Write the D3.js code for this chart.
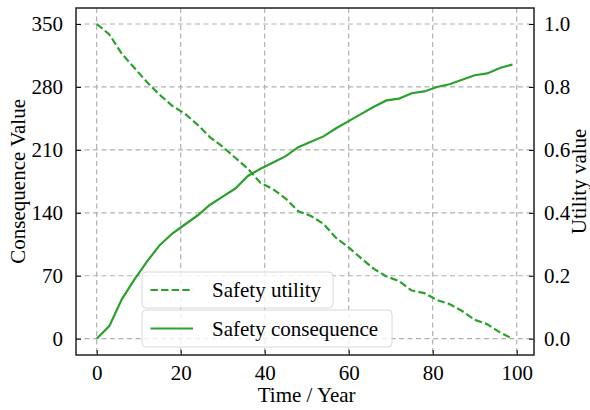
<!DOCTYPE html>
<html>
<head>
<meta charset="utf-8">
<script src="https://cdn.jsdelivr.net/npm/d3@7"></script>
<style>
  html, body { margin: 0; padding: 0; background: #fff; }
  svg { display: block; }
  text { font-family: "Liberation Serif", "Times New Roman", serif; fill: #000; }
</style>
</head>
<body>
<svg id="chart" width="590" height="410"></svg>
<script>
// Time axis (years)
const years = [0, 3, 6, 9, 12, 15, 18, 21, 24, 27, 30, 33, 36, 39, 42, 45, 48,
  51, 54, 57, 60, 63, 66, 69, 72, 75, 78, 81, 84, 87, 90, 93, 96, 99];

// Safety consequence (left axis)
const consequence = [0, 14, 44, 66, 86, 104, 117, 127, 137, 149, 158, 167, 181, 189,
  196, 203, 213, 219, 225, 234, 242, 250, 258, 265, 267, 273, 275, 280, 283, 288,
  293, 295, 301, 305];

// Safety utility (right axis)
const utility = [1.0, 0.967, 0.905, 0.86, 0.815, 0.775, 0.74, 0.715, 0.68, 0.64,
  0.61, 0.575, 0.54, 0.495, 0.475, 0.445, 0.405, 0.39, 0.365, 0.32, 0.29, 0.255,
  0.222, 0.198, 0.183, 0.153, 0.145, 0.123, 0.11, 0.088, 0.06, 0.046, 0.02, 0.0];

const xTicks = [0, 20, 40, 60, 80, 100];
const leftTicks = [0, 70, 140, 210, 280, 350];
const rightTicks = [0.0, 0.2, 0.4, 0.6, 0.8, 1.0];

const seriesNames = ["Safety utility", "Safety consequence"];
const green = "#2ca02c";

const svg = d3.select("#chart");
const frame = { left: 76, right: 534, top: 8, bottom: 355 };

const x = d3.scaleLinear().domain([0, 100]).range([96.7, 516.7]);
const yL = d3.scaleLinear().domain([0, 350]).range([338.7, 24]);
const yR = d3.scaleLinear().domain([0, 1]).range([338.7, 24]);

// grid
const grid = svg.append("g").attr("stroke", "#b0b0b0").attr("stroke-width", 1.2)
  .attr("stroke-dasharray", "5,3.5").attr("fill", "none");
xTicks.forEach(t => grid.append("line")
  .attr("x1", x(t)).attr("x2", x(t)).attr("y1", frame.top).attr("y2", frame.bottom));
leftTicks.forEach(t => grid.append("line")
  .attr("x1", frame.left).attr("x2", frame.right).attr("y1", yL(t)).attr("y2", yL(t)));

// axes with inward ticks
const fs = 21;
const bottomAxis = d3.axisBottom(x).tickValues(xTicks).tickSizeInner(-5).tickSizeOuter(0)
  .tickPadding(10).tickFormat(d3.format("d"));
const leftAxis = d3.axisLeft(yL).tickValues(leftTicks).tickSizeInner(-5).tickSizeOuter(0)
  .tickPadding(13).tickFormat(d3.format("d"));
const rightAxis = d3.axisRight(yR).tickValues(rightTicks).tickSizeInner(-5).tickSizeOuter(0)
  .tickPadding(10).tickFormat(d3.format(".1f"));

function styleAxis(g) {
  g.select(".domain").remove();
  g.selectAll(".tick line").attr("stroke", "#000").attr("stroke-width", 1);
  g.selectAll(".tick text").style("font-family", '"Liberation Serif", serif')
    .style("font-size", fs + "px").attr("fill", "#000");
}
svg.append("g").attr("transform", `translate(0,${frame.bottom})`).call(bottomAxis).call(styleAxis);
svg.append("g").attr("transform", `translate(${frame.left},0)`).call(leftAxis).call(styleAxis);
svg.append("g").attr("transform", `translate(${frame.right},0)`).call(rightAxis).call(styleAxis);

// lines
const lineL = d3.line().x((d, i) => x(years[i])).y(d => yL(d));
const lineR = d3.line().x((d, i) => x(years[i])).y(d => yR(d));

svg.append("path").datum(utility).attr("d", lineR).attr("fill", "none")
  .attr("stroke", green).attr("stroke-width", 2.2).attr("stroke-dasharray", "7.4,3.2");
svg.append("path").datum(consequence).attr("d", lineL).attr("fill", "none")
  .attr("stroke", green).attr("stroke-width", 2.2);

// frame
svg.append("rect").attr("x", frame.left).attr("y", frame.top)
  .attr("width", frame.right - frame.left).attr("height", frame.bottom - frame.top)
  .attr("fill", "none").attr("stroke", "#222").attr("stroke-width", 1.5);

// axis titles
svg.append("text").attr("x", (x(0) + x(100)) / 2).attr("y", 402)
  .attr("text-anchor", "middle").style("font-size", fs + "px").text("Time / Year");
svg.append("text").attr("transform", `translate(25,${(yL(0) + yL(350)) / 2}) rotate(-90)`)
  .attr("text-anchor", "middle").style("font-size", fs + "px").text("Consequence Value");
svg.append("text").attr("transform", `translate(586,${(yL(0) + yL(350)) / 2}) rotate(-90)`)
  .attr("text-anchor", "middle").style("font-size", fs + "px").text("Utility value");

// two separate legend boxes
const legends = [
  { name: seriesNames[0], dash: "7.4,3.2", box: [142, 272, 191, 36] },
  { name: seriesNames[1], dash: null, box: [142, 310, 250, 37] }
];
legends.forEach(l => {
  const [bx, by, bw, bh] = l.box;
  const g = svg.append("g");
  g.append("rect").attr("x", bx).attr("y", by).attr("width", bw).attr("height", bh)
    .attr("rx", 4).attr("fill", "rgba(255,255,255,0.8)").attr("stroke", "#d8d8d8").attr("stroke-width", 1);
  const cy = by + bh / 2;
  g.append("line").attr("x1", bx + 8.5).attr("x2", bx + 51).attr("y1", cy).attr("y2", cy)
    .attr("stroke", green).attr("stroke-width", 2.2).attr("stroke-dasharray", l.dash);
  g.append("text").attr("x", bx + 70).attr("y", cy + 7).style("font-size", fs + "px").text(l.name);
});
</script>
</body>
</html>
